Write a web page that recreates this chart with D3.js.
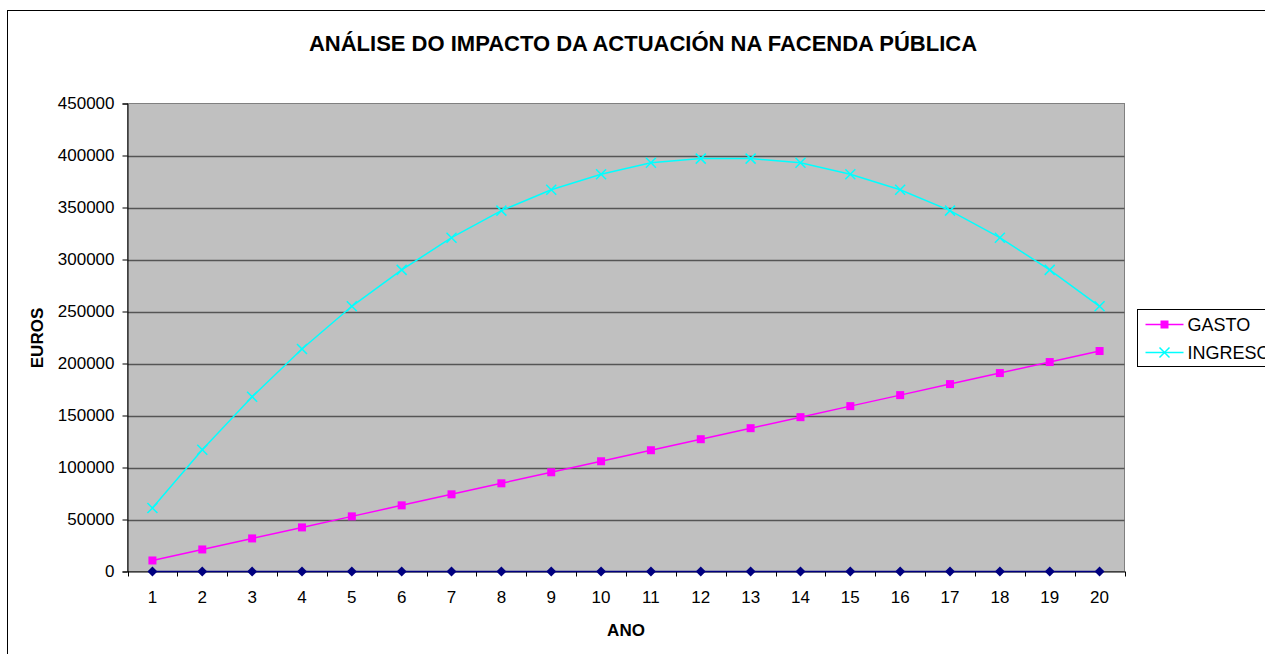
<!DOCTYPE html>
<html>
<head>
<meta charset="utf-8">
<script src="https://cdn.jsdelivr.net/npm/d3@7"></script>
<style>
  body { margin: 0; background: #fff; }
  svg { display: block; font-family: "Liberation Sans", Arial, sans-serif; }
</style>
</head>
<body>
<svg id="chart" width="1265" height="654"></svg>
<script>
// data
const years = d3.range(1, 21);
const gasto = [10600, 21200, 31800, 42400, 53000, 63600, 74200, 84800, 95400, 106000,
  116600, 127200, 137800, 148400, 159000, 169600, 180200, 190800, 201400, 212000];
const ingreso = [61000, 117000, 168000, 214000, 255000, 290000, 321000, 347000, 367000, 382000,
  393000, 397000, 397000, 393000, 382000, 367000, 347000, 321000, 290000, 255000];
const base = [0, 0, 0, 0, 0, 0, 0, 0, 0, 0, 0, 0, 0, 0, 0, 0, 0, 0, 0, 0];
const yTicks = [0, 50000, 100000, 150000, 200000, 250000, 300000, 350000, 400000, 450000];

const svg = d3.select('#chart');

// chart area border (runs off the right / bottom like the original)
svg.append('rect')
  .attr('x', 7.5).attr('y', 10.5)
  .attr('width', 1300).attr('height', 700)
  .attr('fill', '#fff').attr('stroke', '#000').attr('stroke-width', 1);

const plot = { left: 127.5, right: 1124.5, top: 103.5, bottom: 571.5 };

const x = d3.scaleBand()
  .domain(years)
  .range([plot.left, plot.right])
  .paddingInner(0).paddingOuter(0);
const cx = d => x(d) + x.bandwidth() / 2;

const y = d3.scaleLinear()
  .domain([0, 450000])
  .range([plot.bottom, plot.top]);

// plot background
svg.append('rect')
  .attr('x', plot.left).attr('y', plot.top)
  .attr('width', plot.right - plot.left).attr('height', plot.bottom - plot.top)
  .attr('fill', '#c0c0c0').attr('stroke', '#808080');

// gridlines
svg.append('g')
  .selectAll('line')
  .data(yTicks.filter(t => t > 0 && t < 450000))
  .join('line')
  .attr('x1', plot.left).attr('x2', plot.right)
  .attr('y1', d => Math.round(y(d)) + 0.5).attr('y2', d => Math.round(y(d)) + 0.5)
  .attr('stroke', '#555').attr('stroke-width', 1.5);

// y axis
const yAxis = svg.append('g')
  .attr('transform', `translate(${plot.left},0)`)
  .call(d3.axisLeft(y).tickValues(yTicks).tickSize(5).tickPadding(8).tickFormat(d3.format('d')));
yAxis.select('.domain').attr('stroke', '#000');
yAxis.selectAll('text').attr('font-size', 17).attr('fill', '#000')
  .attr('font-family', '"Liberation Sans", Arial, sans-serif');

// x axis
const xAxis = svg.append('g')
  .attr('transform', `translate(0,${plot.bottom})`)
  .call(d3.axisBottom(x).tickSize(0).tickPadding(19));
xAxis.select('.domain').attr('stroke', '#000');
xAxis.selectAll('text').attr('font-size', 17).attr('fill', '#000')
  .attr('font-family', '"Liberation Sans", Arial, sans-serif');
// tick marks between categories
svg.append('g')
  .selectAll('line')
  .data(years.map(d => x(d)).concat([plot.right]))
  .join('line')
  .attr('x1', d => Math.round(d) + 0.5).attr('x2', d => Math.round(d) + 0.5)
  .attr('y1', plot.bottom).attr('y2', plot.bottom + 5)
  .attr('stroke', '#000');

// series
function drawSeries(values, color, marker) {
  const line = d3.line().x((d, i) => cx(years[i])).y(d => y(d));
  svg.append('path')
    .datum(values)
    .attr('d', line)
    .attr('fill', 'none')
    .attr('stroke', color)
    .attr('stroke-width', 1.5);
  const g = svg.append('g');
  values.forEach((v, i) => marker(g.append('g').attr('transform', `translate(${cx(years[i])},${y(v)})`), color));
}

const square = (g, c) => g.append('rect')
  .attr('x', -4).attr('y', -4).attr('width', 8).attr('height', 8).attr('fill', c);
const cross = (g, c) => g.append('path')
  .attr('d', 'M-5,-5L5,5M-5,5L5,-5').attr('stroke', c).attr('stroke-width', 1.5);
const diamond = (g, c) => g.append('path')
  .attr('d', 'M0,-5L5,0L0,5L-5,0Z').attr('fill', c);

drawSeries(base, '#000080', diamond);
drawSeries(gasto, '#ff00ff', square);
drawSeries(ingreso, '#00ffff', cross);

// titles
svg.append('text')
  .attr('x', 643).attr('y', 51)
  .attr('text-anchor', 'middle')
  .attr('font-size', 22).attr('font-weight', 'bold')
  .text('ANÁLISE DO IMPACTO DA ACTUACIÓN NA FACENDA PÚBLICA');

svg.append('text')
  .attr('x', 626).attr('y', 636)
  .attr('text-anchor', 'middle')
  .attr('font-size', 17).attr('font-weight', 'bold')
  .text('ANO');

svg.append('text')
  .attr('transform', 'translate(43,338) rotate(-90)')
  .attr('text-anchor', 'middle')
  .attr('font-size', 17).attr('font-weight', 'bold')
  .text('EUROS');

// legend
const legendItems = [
  { name: 'GASTO', color: '#ff00ff', marker: square },
  { name: 'INGRESO', color: '#00ffff', marker: cross }
];
const legend = svg.append('g').attr('transform', 'translate(1137.5,309.5)');
legend.append('rect')
  .attr('width', 170).attr('height', 57)
  .attr('fill', '#fff').attr('stroke', '#000');
legendItems.forEach((item, i) => {
  const row = legend.append('g').attr('transform', `translate(0,${15 + i * 28})`);
  row.append('line')
    .attr('x1', 8).attr('x2', 46)
    .attr('stroke', item.color).attr('stroke-width', 1.5);
  item.marker(row.append('g').attr('transform', 'translate(27,0)'), item.color);
  row.append('text')
    .attr('x', 50).attr('y', 6)
    .attr('font-size', 18)
    .text(item.name);
});
</script>
</body>
</html>
